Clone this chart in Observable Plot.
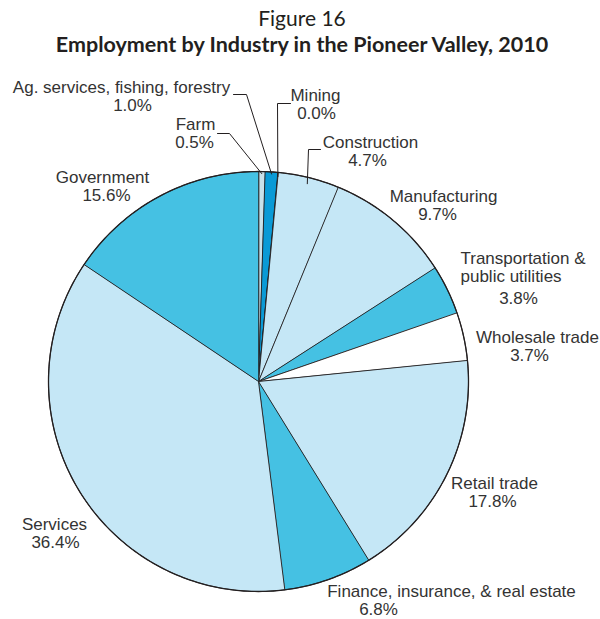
<!DOCTYPE html>
<html>
<head>
<meta charset="utf-8">
<script src="https://cdn.jsdelivr.net/npm/d3@7"></script>
<script src="https://cdn.jsdelivr.net/npm/@observablehq/plot@0.6"></script>
<style>
  body { margin: 0; background: #fff; }
  #wrap { width: 600px; position: relative; }
  #head { position: relative; width: 600px; height: 60px; }
  #head div { position: absolute; left: 0; width: 604px; text-align: center; color: #231f20; font-family: Lato, "Open Sans", sans-serif; line-height: 1; }
  #fig { top: 7px; font-size: 21px; }
  #ttl { top: 34px; font-size: 21.5px; font-weight: bold; }
</style>
</head>
<body>
<div id="wrap">
  <div id="head">
    <div id="fig">Figure 16</div>
    <div id="ttl">Employment by Industry in the Pioneer Valley, 2010</div>
  </div>
  <div id="chart"></div>
</div>
<script>
// ---- data ----
const industries = [
  "Farm", "Ag. services, fishing, forestry", "Mining", "Construction",
  "Manufacturing", "Transportation & public utilities", "Wholesale trade",
  "Retail trade", "Finance, insurance, & real estate", "Services", "Government"
];
const shares = [0.5, 1.0, 0.0, 4.7, 9.7, 3.8, 3.7, 17.8, 6.8, 36.4, 15.6];
const shareLabels = ["0.5%", "1.0%", "0.0%", "4.7%", "9.7%", "3.8%", "3.7%", "17.8%", "6.8%", "36.4%", "15.6%"];

// ---- styles ----
const palette = ["#c9e1ea", "#0a9ad6", "#0a9ad6", "#c5e7f6", "#c5e7f6", "#45c1e3",
                 "#ffffff", "#c5e7f6", "#45c1e3", "#c5e7f6", "#45c1e3"];
const ink = "#231f20";
const textInk = "#333333";

// ---- layout (page pixels) ----
const CX = 258, CY = 381, R = 210, TOP = 60;
const px = v => (v - CX) / R;
const py = v => (CY - v) / R;

// label text positions: [industry index, text, x, y, anchor]
const labelLayout = [
  [1, "Ag. services, fishing, forestry", 121, 87, "middle"],
  [1, "%", 132, 105, "middle"],
  [0, "Farm", 195, 124, "middle"],
  [0, "%", 194, 142, "middle"],
  [2, "Mining", 315, 95.5, "middle"],
  [2, "%", 316, 113.5, "middle"],
  [3, "Construction", 370, 142, "middle"],
  [3, "%", 367, 160, "middle"],
  [4, "Manufacturing", 443, 196, "middle"],
  [4, "%", 437, 214, "middle"],
  [5, "Transportation &", 460, 258, "start"],
  [5, "public utilities", 460, 276, "start"],
  [5, "%", 518, 298, "middle"],
  [6, "Wholesale trade", 537, 337, "middle"],
  [6, "%", 529, 355, "middle"],
  [7, "Retail trade", 494, 483, "middle"],
  [7, "%", 492, 501, "middle"],
  [8, "Finance, insurance, & real estate", 451, 591.5, "middle"],
  [8, "%", 378, 609.5, "middle"],
  [9, "Services", 54, 524, "middle"],
  [9, "%", 55, 542, "middle"],
  [10, "Government", 102, 177, "middle"],
  [10, "%", 106, 195, "middle"]
];
// leader elbows: [industry index, [[x,y],[x,y]], radius fraction at slice]
const leaderLayout = [
  [1, [[233, 94], [246, 94]], 0.99],
  [0, [[217, 133], [229, 133]], 0.99],
  [2, [[290, 103], [277, 103]], 0.98],
  [3, [[320, 149], [308, 149]], 0.97]
];

// ---- geometry from data ----
const arcs = d3.pie().sort(null).startAngle(0).endAngle(2 * Math.PI)(shares);
const slicePts = [];
arcs.forEach((a, i) => {
  slicePts.push({k: i, x: 0, y: 0, c: palette[i]});
  const n = Math.max(1, Math.ceil((a.endAngle - a.startAngle) / 0.01));
  for (let j = 0; j <= n; j++) {
    const t = a.startAngle + (a.endAngle - a.startAngle) * j / n;
    slicePts.push({k: i, x: Math.sin(t), y: Math.cos(t), c: palette[i]});
  }
});

const leaderPts = [];
leaderLayout.forEach(([i, elbows, rf]) => {
  elbows.forEach(([x, y]) => leaderPts.push({k: i, x: px(x), y: py(y)}));
  const a = arcs[i];
  const m = (a.startAngle + a.endAngle) / 2;
  leaderPts.push({k: i, x: rf * Math.sin(m), y: rf * Math.cos(m)});
});

const labels = labelLayout.map(([i, t, x, y, anchor]) => ({
  t: t === "%" ? shareLabels[i] : t, x: px(x), y: py(y), anchor
}));

const outline = d3.range(0, 361).map(d => ({x: Math.sin(d * Math.PI / 180), y: Math.cos(d * Math.PI / 180)}));

const H = 619 - TOP;
const chart = Plot.plot({
  width: 600,
  height: H,
  margin: 0,
  x: {domain: [-1, 1], range: [CX - R, CX + R], axis: null},
  y: {domain: [-1, 1], range: [CY - TOP + R, CY - TOP - R], axis: null},
  style: {background: "transparent"},
  marks: [
    Plot.line(slicePts, {x: "x", y: "y", z: "k", fill: "c", stroke: ink, strokeWidth: 0.9, curve: "linear-closed", strokeLinejoin: "round"}),
    Plot.line(outline, {x: "x", y: "y", stroke: ink, strokeWidth: 1.3}),
    Plot.line(leaderPts, {x: "x", y: "y", z: "k", stroke: ink, strokeWidth: 1}),
    Plot.text(labels.filter(d => d.anchor === "middle"), {x: "x", y: "y", text: "t", textAnchor: "middle", fill: textInk, fontSize: 17, fontFamily: "Liberation Sans, Arial, sans-serif"}),
    Plot.text(labels.filter(d => d.anchor === "start"), {x: "x", y: "y", text: "t", textAnchor: "start", fill: textInk, fontSize: 17, fontFamily: "Liberation Sans, Arial, sans-serif"})
  ]
});
document.getElementById("chart").appendChild(chart);
</script>
</body>
</html>
